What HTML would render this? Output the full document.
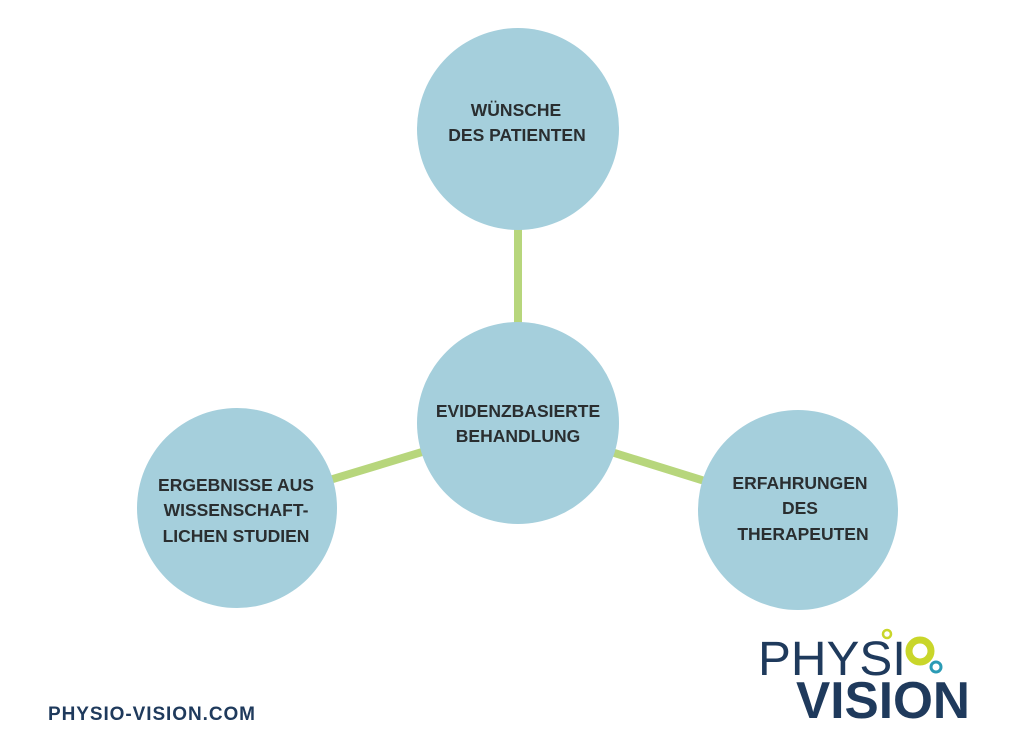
<!DOCTYPE html>
<html><head><meta charset="utf-8"><style>
body{margin:0;background:#fff;width:1030px;height:745px;overflow:hidden}
</style></head><body>
<svg width="1030" height="745" xmlns="http://www.w3.org/2000/svg" font-family="Liberation Sans, sans-serif">
<g stroke="#b7d67c" stroke-width="8">
<line x1="518" y1="129" x2="518" y2="423"/>
<line x1="518" y1="423" x2="237" y2="508"/>
<line x1="518" y1="423" x2="798" y2="510"/>
</g>
<g fill="#a5cfdc">
<circle cx="518" cy="129" r="101"/>
<circle cx="518" cy="423" r="101"/>
<circle cx="237" cy="508" r="100"/>
<circle cx="798" cy="510" r="100"/>
</g>
<g fill="#2a2e30" font-size="17.5" font-weight="bold" text-anchor="middle">
<text x="516" y="116">WÜNSCHE</text>
<text x="517" y="141">DES PATIENTEN</text>
<text x="518" y="417">EVIDENZBASIERTE</text>
<text x="518" y="442">BEHANDLUNG</text>
<text x="236" y="491">ERGEBNISSE AUS</text>
<text x="236" y="516">WISSENSCHAFT-</text>
<text x="236" y="542">LICHEN STUDIEN</text>
<text x="800" y="489">ERFAHRUNGEN</text>
<text x="800" y="514">DES</text>
<text x="803" y="540">THERAPEUTEN</text>
</g>
<text x="48" y="720" fill="#1f3a5c" font-size="19" font-weight="bold" textLength="207">PHYSIO-VISION.COM</text>
<text x="758" y="675" fill="#1f3a5c" font-size="48" textLength="148" lengthAdjust="spacingAndGlyphs">PHYSI</text>
<text x="796" y="718" fill="#1f3a5c" font-size="52" font-weight="bold" textLength="174" lengthAdjust="spacingAndGlyphs">VISION</text>
<circle cx="920" cy="651" r="11" fill="none" stroke="#c9d62a" stroke-width="7"/>
<circle cx="887" cy="634" r="4" fill="none" stroke="#c9d62a" stroke-width="2.5"/>
<circle cx="936" cy="667" r="5" fill="none" stroke="#2b9bb5" stroke-width="3"/>
</svg>
</body></html>
